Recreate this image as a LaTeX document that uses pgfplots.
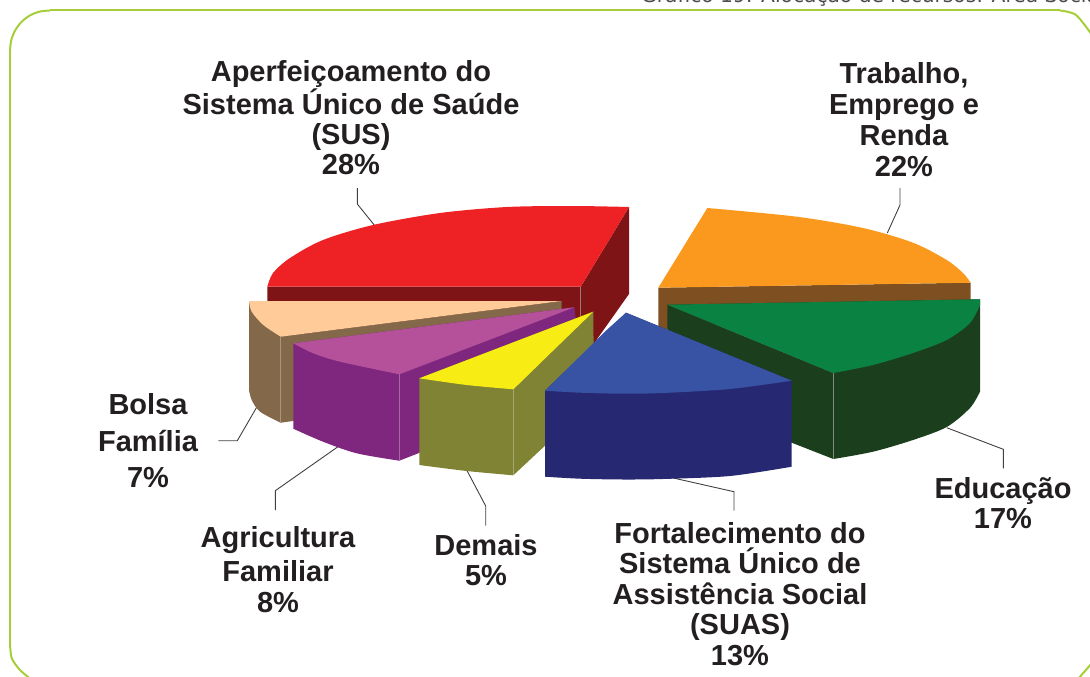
\documentclass[border=0pt]{standalone}
\usepackage{pgfplots}
\pgfplotsset{compat=1.18}
\usepackage{fontspec}
\setmainfont{Liberation Sans}
\newfontfamily\capfont{DejaVu Sans}
\definecolor{cFrame}{HTML}{A6CE39}
\definecolor{cRed}{HTML}{EE2224}
\definecolor{cRedD}{HTML}{7F1416}
\definecolor{cOr}{HTML}{FA991D}
\definecolor{cOrD}{HTML}{7E4F20}
\definecolor{cGr}{HTML}{0A8241}
\definecolor{cGrD}{HTML}{1B3F1D}
\definecolor{cBl}{HTML}{3853A4}
\definecolor{cBlD}{HTML}{262872}
\definecolor{cYe}{HTML}{F7EC13}
\definecolor{cYeD}{HTML}{808334}
\definecolor{cPu}{HTML}{B5519B}
\definecolor{cPuD}{HTML}{7F277F}
\definecolor{cPe}{HTML}{FFCC99}
\definecolor{cPeD}{HTML}{836849}
\definecolor{cLead}{HTML}{404040}
\definecolor{cTxt}{HTML}{231F20}
\newcommand{\poly}[2]{\addplot[fill=#1,draw=none,forget plot] coordinates {#2} --cycle;}
% a face with one curved edge: the curve, then straight edges back to its start
\newcommand{\arcface}[3]{\addplot[fill=#1,draw=none,smooth,forget plot] coordinates {#2} #3 --cycle;}
\newcommand{\lead}[1]{\addplot[cLead,line width=0.9pt,forget plot] coordinates {#1};}
\newcommand{\edge}[2]{\addplot[#1,line width=0.5pt,forget plot] coordinates {#2};}
\tikzset{lbl/.style={font=\bfseries\fontsize{29}{30.5}\selectfont,text=cTxt,align=center,inner sep=0pt}}
\begin{document}
\begin{tikzpicture}
\useasboundingbox (0,0) rectangle (1090pt,677pt);
\begin{axis}[at={(0,0)},anchor=south west,scale only axis,width=1090pt,height=677pt,
  xmin=0,xmax=1090,ymin=0,ymax=677,y dir=reverse,axis lines=none,clip=false]
% frame
\addplot[cFrame,line width=2pt,smooth,forget plot] coordinates {(32,680) (20,670) (11.7,658) (10,643)};
\addplot[cFrame,line width=2pt,forget plot] coordinates {(10,643) (10,50)};
\addplot[cFrame,line width=2pt,smooth,forget plot] coordinates {(10,50) (11.4,39.6) (15.4,30) (21.7,21.7) (30,15.4) (39.6,11.6) (50,10.5)};
\addplot[cFrame,line width=2pt,forget plot] coordinates {(50,10.5) (1060,10.5)};
\addplot[cFrame,line width=2pt,smooth,forget plot] coordinates {(1060,10.5) (1076,15) (1092,35)};
\addplot[cFrame,line width=2pt,forget plot] coordinates {(1078,679) (1092,663)};
% leaders
\lead{(357.3,188) (357.3,204) (375,226)}
\lead{(900,188) (900,205) (887.3,233)}
\lead{(946.7,427.7) (1003.3,449.3) (1003.3,468.3)}
\lead{(673.3,478) (734,491.7) (734,510.7)}
\lead{(466.7,470) (485.7,506) (485.7,525.7)}
\lead{(339,446) (275.3,490.7) (275.3,510)}
\lead{(258,405) (237.3,440.7) (218.3,440.7)}
% red
\poly{cRedD}{(267.3,286.7) (580.7,286.7) (629,207) (629,294) (595,342) (580.7,373) (267.3,340)}
\arcface{cRed}{(267.3,286.7) (273,273) (290,258) (323,240) (373,225) (440,213) (507,207) (573,206) (629,207)}{-- (axis cs:580.7,286.7)}
\edge{black!35!white!70!cRedD}{(580.7,286.7) (580.7,320)}
% orange
\poly{cOrD}{(658.3,287.7) (970.7,282.7) (970.7,300) (658.3,330)}
\arcface{cOr}{(707.3,208) (796.7,216.7) (863,228) (913,242.7) (946.7,260) (963,273) (970.7,282.7)}{-- (axis cs:658.3,287.7)}
% green
\poly{cGrD}{(667.3,304.7) (833.3,373) (833.3,459) (791.7,442.7) (667.3,390)}
\arcface{cGrD}{(980,391.7) (970,408) (946.7,427) (913,440) (873,451.7) (833.3,459)}{-- (axis cs:833.3,373) -- (axis cs:667.3,304.7) -- (axis cs:980,299.3)}
\arcface{cGr}{(980,305) (970,323) (946.7,340) (913,353) (873,365) (833.3,373)}{-- (axis cs:667.3,304.7) -- (axis cs:980,299.3)}
\edge{black!25!white!60!cGrD}{(833.3,373) (833.3,459)}
% peach
\poly{cPeD}{(561.7,301) (561.7,320) (293,421) (280.7,422.7) (280.7,336.7)}
\arcface{cPeD}{(249,390) (251.7,400) (260,411.7) (280.7,422.7)}{-- (axis cs:300,330) -- (axis cs:249,301)}
\arcface{cPe}{(249,301) (251.7,311.7) (263.3,325) (280.7,336.7)}{-- (axis cs:561.7,301)}
\edge{white!30!cPeD}{(280.7,336.7) (280.7,422.7)}
% purple
\poly{cPuD}{(574.3,307.3) (577,330) (419,453) (399.3,460.7) (399.3,374.3)}
\arcface{cPuD}{(293.3,428.7) (323,441.7) (356.7,453.3) (399.3,460.7)}{-- (axis cs:399.3,374.3) -- (axis cs:574.3,307.3) -- (axis cs:293.3,343.3)}
\arcface{cPu}{(293.3,343.3) (313.3,353.3) (340,361.7) (399.3,374.3)}{-- (axis cs:574.3,307.3)}
\edge{white!30!cPuD}{(399.3,374.3) (399.3,460.7)}
% yellow
\poly{cYeD}{(593.3,311.7) (594,400) (513.3,475.3) (513.3,389.3)}
\arcface{cYeD}{(419.3,465) (466.7,471) (513.3,475.3)}{-- (axis cs:513.3,389.3) -- (axis cs:593.3,311.7) -- (axis cs:419.3,378.3)}
\arcface{cYe}{(419.3,378.3) (466.7,385) (513.3,389.3)}{-- (axis cs:593.3,311.7)}
\edge{white!30!cYeD}{(513.3,389.3) (513.3,475.3)}
% blue
\arcface{cBlD}{(791.7,466.7) (730,476) (663,479) (623,479.5) (580,478.7) (545,476.7)}{-- (axis cs:545,390.7) -- (axis cs:626,312.7) -- (axis cs:791.7,380.7)}
\arcface{cBl}{(545,390.7) (580,392.7) (623,393.7) (663,393) (730,389) (791.7,380.7)}{-- (axis cs:626,312.7) -- (axis cs:606.7,330)}
% labels
\node[lbl,font=\bfseries\fontsize{29}{30}\selectfont] at (axis cs:351,117.5) {Aperfeiçoamento do\\Sistema Único de Saúde\\(SUS)\\28\%};
\node[lbl,font=\bfseries\fontsize{29}{31}\selectfont] at (axis cs:904,119.5) {Trabalho,\\Emprego e\\Renda\\22\%};
\node[lbl] at (axis cs:1003,503) {Educação\\17\%};
\node[lbl] at (axis cs:740,594) {Fortalecimento do\\Sistema Único de\\Assistência Social\\(SUAS)\\13\%};
\node[lbl] at (axis cs:486,560) {Demais\\5\%};
\node[lbl] at (axis cs:278,569.5) {Agricultura\\[4pt]Familiar\\8\%};
\node[lbl] at (axis cs:148,441) {Bolsa\\[6pt]Família\\[6pt]7\%};
\node[font=\capfont\fontsize{20.2}{22}\selectfont,text=black!70,anchor=base west,inner sep=0pt] at (axis cs:641,3) {Gráfico 19: Alocação de recursos: Área Social};
\end{axis}
\end{tikzpicture}
\end{document}
